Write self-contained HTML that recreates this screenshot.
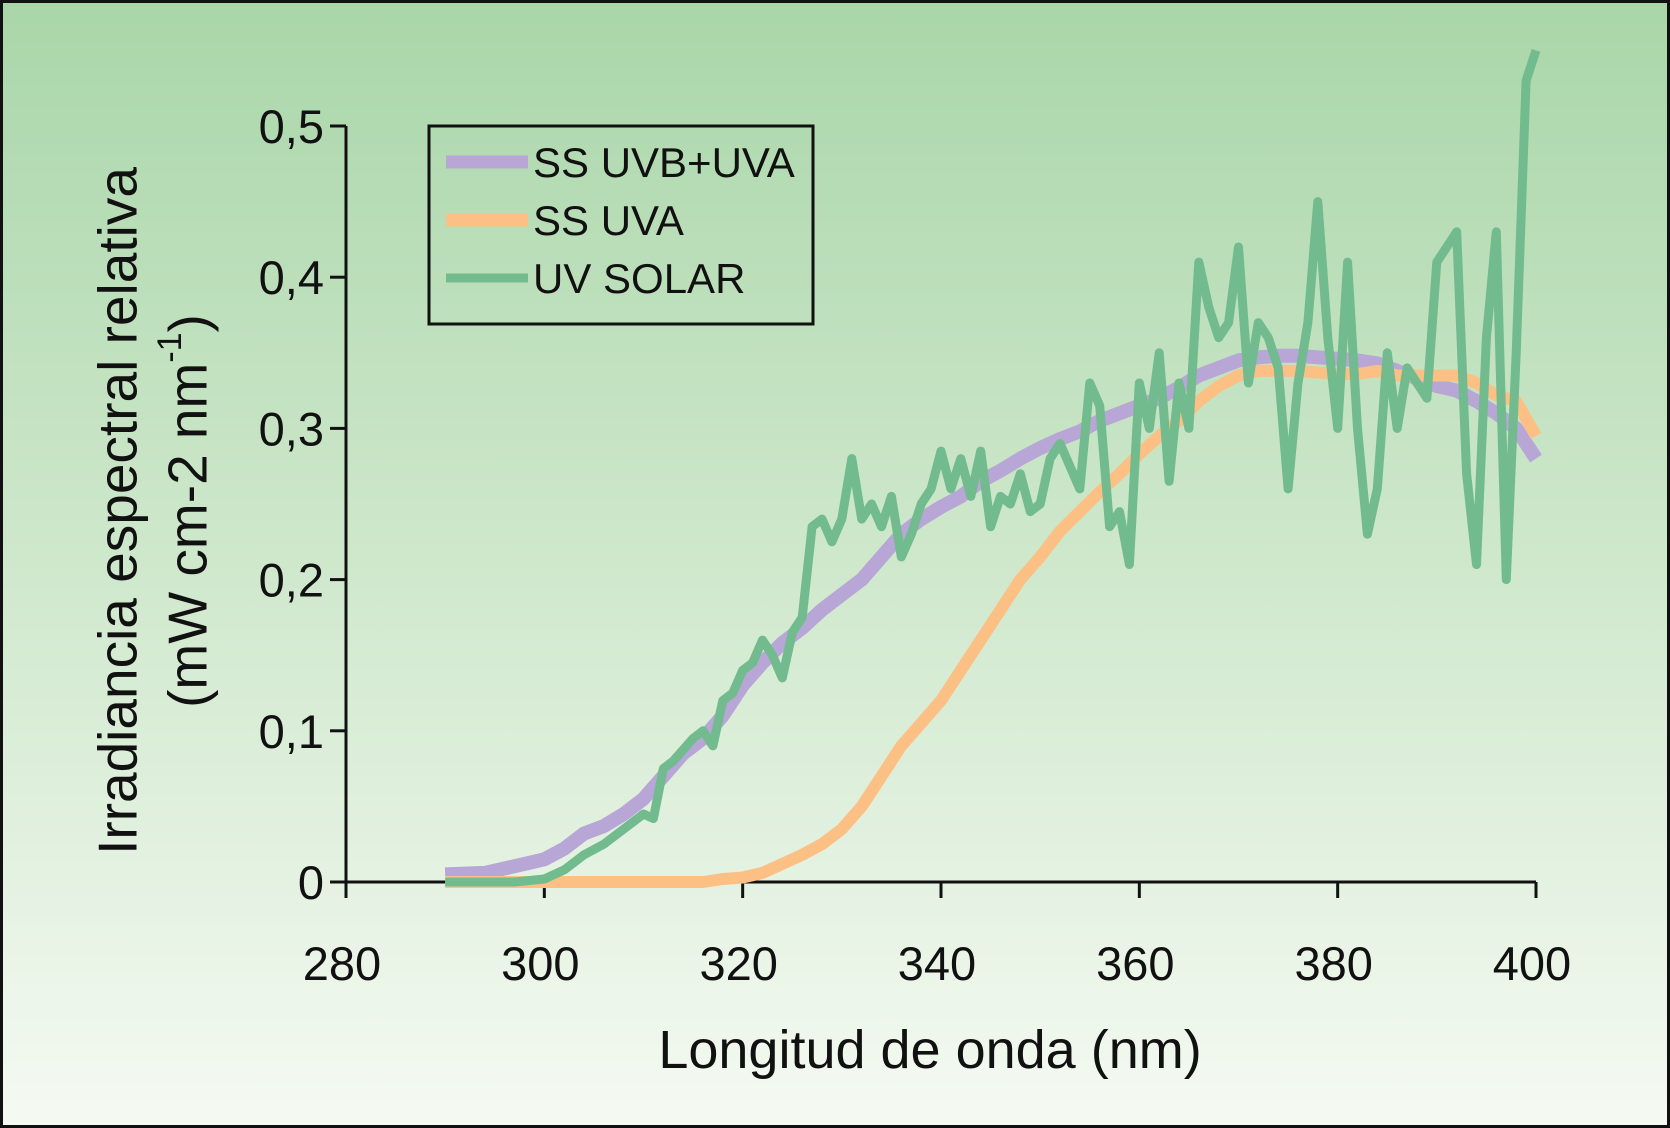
<!DOCTYPE html>
<html><head><meta charset="utf-8"><style>
html,body{margin:0;padding:0;width:1670px;height:1128px;overflow:hidden}
svg{display:block}
text{font-family:"Liberation Sans",sans-serif;fill:#111}
</style></head><body>
<svg id="chart" width="1670" height="1128" viewBox="0 0 1670 1128">
<defs><linearGradient id="bg" x1="0" y1="0" x2="0" y2="1">
<stop offset="0" stop-color="#a9d6a9"/><stop offset="0.5" stop-color="#cfe8cc"/><stop offset="1" stop-color="#f5faf3"/></linearGradient></defs>
<rect x="1.5" y="1.5" width="1667" height="1125" fill="url(#bg)" stroke="#111" stroke-width="3"/>
<g id="plot"></g>
<g>
<text transform="translate(122,511) rotate(-90)" text-anchor="middle" dominant-baseline="middle" font-size="55">Irradiancia espectral relativa</text>
<text transform="translate(192,511) rotate(-90)" text-anchor="middle" dominant-baseline="middle" font-size="55">(mW cm-2 nm<tspan dy="-20" font-size="34">-1</tspan><tspan dy="20">)</tspan></text>
</g>
<text x="930" y="1068" text-anchor="middle" font-size="54">Longitud de onda (nm)</text>
<g>
<rect x="429" y="126" width="384" height="198" fill="none" stroke="#111" stroke-width="3"/>
<g><line x1="446" y1="162" x2="528" y2="162" stroke="#b7a6d6" stroke-width="13"/><text x="533" y="177" font-size="42">SS UVB+UVA</text></g>
<g><line x1="446" y1="220" x2="528" y2="220" stroke="#fcc085" stroke-width="13"/><text x="533" y="235" font-size="42">SS UVA</text></g>
<g><line x1="446" y1="278" x2="528" y2="278" stroke="#72bb8f" stroke-width="9"/><text x="533" y="293" font-size="42">UV SOLAR</text></g>
</g>
</svg>
<script>
const xTicks=[280,300,320,340,360,380,400];
const yTicks=[0,0.1,0.2,0.3,0.4,0.5];
const yTickLabels=["0","0,1","0,2","0,3","0,4","0,5"];
const purpleX=[290,294,298,300,302,304,306,308,310,312,314,316,318,320,322,324,326,328,330,332,334,336,338,340,342,344,346,348,350,352,354,356,358,360,362,364,366,368,370,372,374,376,378,380,382,384,386,388,390,392,394,396,398,400];
const purpleY=[0.005,0.006,0.012,0.015,0.022,0.032,0.037,0.045,0.055,0.07,0.085,0.095,0.11,0.13,0.145,0.158,0.168,0.18,0.19,0.2,0.215,0.23,0.24,0.248,0.255,0.265,0.272,0.28,0.287,0.293,0.298,0.305,0.31,0.315,0.32,0.327,0.335,0.34,0.345,0.347,0.348,0.348,0.347,0.346,0.345,0.343,0.338,0.333,0.328,0.325,0.318,0.31,0.3,0.28];
const orangeX=[290,300,310,316,318,320,322,324,326,328,330,332,334,336,338,340,342,344,346,348,350,352,354,356,358,360,362,364,366,368,370,372,374,376,378,380,382,384,386,388,390,392,394,396,398,400];
const orangeY=[0,0,0,0,0.002,0.003,0.006,0.012,0.018,0.025,0.035,0.05,0.07,0.09,0.105,0.12,0.14,0.16,0.18,0.2,0.215,0.232,0.245,0.258,0.27,0.283,0.295,0.305,0.318,0.328,0.335,0.338,0.338,0.338,0.337,0.336,0.336,0.338,0.335,0.335,0.335,0.335,0.33,0.322,0.318,0.295];
const greenX=[290,297,300,302,304,306,308,310,311,312,313,315,316,317,318,319,320,321,322,323,324,325,326,327,328,329,330,331,332,333,334,335,336,337,338,339,340,341,342,343,344,345,346,347,348,349,350,351,352,353,354,355,356,357,358,359,360,361,362,363,364,365,366,367,368,369,370,371,372,373,374,375,376,377,378,379,380,381,382,383,384,385,386,387,388,389,390,391,392,393,394,395,396,397,398,399,400];
const greenY=[0,0,0.002,0.008,0.018,0.025,0.035,0.045,0.042,0.075,0.08,0.095,0.1,0.09,0.12,0.125,0.14,0.145,0.16,0.15,0.135,0.165,0.175,0.235,0.24,0.225,0.24,0.28,0.24,0.25,0.235,0.255,0.215,0.23,0.25,0.26,0.285,0.26,0.28,0.255,0.285,0.235,0.255,0.25,0.27,0.245,0.25,0.28,0.29,0.275,0.26,0.33,0.315,0.235,0.245,0.21,0.33,0.3,0.35,0.265,0.33,0.3,0.41,0.38,0.36,0.37,0.42,0.33,0.37,0.36,0.34,0.26,0.33,0.37,0.45,0.36,0.3,0.41,0.3,0.23,0.26,0.35,0.3,0.34,0.33,0.32,0.41,0.42,0.43,0.27,0.21,0.36,0.43,0.2,0.35,0.53,0.55];
const X0=346,X1=1536,Y0=882,Y1=126;
const sx=v=>X0+(v-280)/(400-280)*(X1-X0);
const sy=v=>Y0-v/0.5*(Y0-Y1);
const NS="http://www.w3.org/2000/svg";
const g=document.getElementById('plot');
function mk(tag,attrs){const e=document.createElementNS(NS,tag);for(const k in attrs)e.setAttribute(k,attrs[k]);g.appendChild(e);return e;}
const ya=mk('line',{x1:X0,y1:Y1,x2:X0,y2:Y0,stroke:'#111','stroke-width':3});


const xa=mk('line',{x1:X0,y1:Y0,x2:X1,y2:Y0,stroke:'#111','stroke-width':3});


yTicks.forEach((t,i)=>{
 const y=sy(t);
 const tk=mk('line',{x1:X0-16,y1:y,x2:X0,y2:y,stroke:'#111','stroke-width':3});
 
 
 const tx=mk('text',{x:X0-22,y:y+17,'text-anchor':'end','font-size':47});
 tx.textContent=yTickLabels[i];
 
 
});
xTicks.forEach(t=>{
 const x=sx(t);
 const tk=mk('line',{x1:x,y1:Y0,x2:x,y2:Y0+16,stroke:'#111','stroke-width':3});
 
 
 const tx=mk('text',{x:x-4,y:980,'text-anchor':'middle','font-size':47});
 tx.textContent=String(t);
 
 
});
function pts(xs,ys){return xs.map((x,i)=>sx(x).toFixed(1)+','+sy(ys[i]).toFixed(1)).join(' ');}
const p1=mk('polyline',{points:pts(purpleX,purpleY),fill:'none',stroke:'#b7a6d6','stroke-width':14,'stroke-linejoin':'round'});


const p2=mk('polyline',{points:pts(orangeX,orangeY),fill:'none',stroke:'#fcc085','stroke-width':12,'stroke-linejoin':'round'});


const p3=mk('polyline',{points:pts(greenX,greenY),fill:'none',stroke:'#72bb8f','stroke-width':9,'stroke-linejoin':'round'});


</script>
</body></html>
